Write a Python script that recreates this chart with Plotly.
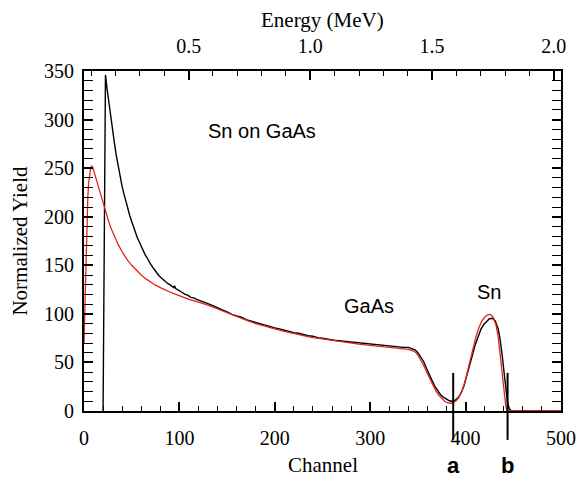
import plotly.graph_objects as go

# Measured RBS spectrum (Sn on GaAs)
exp_channel = [20, 22.5, 24, 26, 28, 30, 32, 34, 36, 38, 40, 42, 44, 46, 48, 50, 52, 54, 56, 58,
               60, 62, 64, 66, 68, 70, 72, 74, 76, 78, 80, 82, 84, 86, 88, 90, 92, 94, 95, 96,
               98, 100, 103, 106, 109, 112, 115, 118, 121, 124, 127, 130, 135, 140, 145, 150,
               155, 160, 165, 170, 175, 180, 185, 190, 195, 200, 205, 210, 215, 220, 225, 230,
               235, 240, 245, 250, 255, 260, 265, 270, 275, 280, 285, 290, 295, 300, 305, 310,
               315, 320, 325, 330, 335, 340, 344, 347, 350, 353, 356, 359, 362, 365, 368, 371,
               374, 377, 380, 383, 386, 389, 392, 395, 398, 401, 404, 407, 410, 413, 416, 419,
               422, 425, 428, 431, 434, 436, 438, 440, 442, 444, 446, 448, 470, 500]
exp_yield = [0, 346, 333, 317, 301, 288, 275, 262, 251, 241, 231, 223, 215, 207, 201, 195, 189, 184, 178, 174,
             169, 166, 161, 158, 154, 151, 148, 145, 142.5, 140, 138, 136, 134.5, 133, 131, 130, 128.5, 127, 129, 126,
             125, 123.5, 122, 120, 119, 117, 116.5, 115, 114, 112.5, 111.5, 110.5, 108.5, 106, 104, 102,
             99.5, 98, 96.5, 94, 92.5, 91, 89.5, 88, 86.5, 85.5, 84.5, 83, 82, 80.5, 80, 78.5,
             77.5, 77, 75.5, 75, 74, 73.5, 72.5, 72, 71.5, 70.5, 70, 70, 69, 68.5, 68, 67.5,
             67.5, 66.5, 66, 66, 65.5, 65.5, 64.5, 63, 60, 56, 51, 44, 37, 31, 25, 20,
             16.5, 14, 12, 10.5, 10, 11, 13.5, 18, 25, 35, 46, 57, 68, 77, 84, 89,
             92.5, 95, 95.5, 93, 85, 75, 60, 42, 22, 8, 2, 0, 0, 0]

# Simulated spectrum
sim_channel = [0, 1, 2, 3, 4, 5, 6, 7, 8, 9, 10, 12, 14, 16, 18, 20, 22, 25, 28, 30,
               33, 36, 40, 45, 50, 55, 60, 65, 70, 75, 80, 85, 90, 95, 100, 110, 120, 130, 140, 150,
               160, 170, 180, 190, 200, 210, 220, 230, 240, 250, 260, 270, 280, 290, 300, 310, 320, 330, 340, 345,
               348, 351, 354, 357, 360, 363, 366, 369, 372, 375, 378, 381, 384, 387, 390, 393, 396, 399, 402, 405,
               408, 411, 414, 417, 420, 423, 426, 429, 432, 434, 436, 438, 440, 442, 443.5, 500]
sim_yield = [70, 115, 160, 195, 220, 236, 245, 250, 252, 251, 248, 241, 234, 227, 221, 215, 208, 198, 189, 184,
             177, 171, 164, 156, 150, 144.5, 140, 136, 132.5, 129.5, 127, 124.5, 122.5, 120.5, 118.5, 115, 112, 109, 105, 101,
             97.5, 93.5, 90, 87, 84.5, 82, 79.5, 77.5, 75.5, 74, 72.5, 71, 69.5, 68.5, 67.5, 66.5, 65.5, 64.5, 63.5, 62,
             60, 56, 51, 45, 38.5, 32, 26, 20.5, 16, 12.5, 10, 8.5, 8, 8.5, 10.5, 14, 20, 29, 41, 54,
             66, 77, 86, 92.5, 96.5, 99, 99.5, 96.5, 88, 77, 60, 40, 20, 6, 0, 0]

# Channel window edges (a, b) and the energy scale of the top axis
window_channels = [387, 444]
window_labels = ["a", "b"]
energy_range = [0.07, 2.03]
energy_ticks = [0.5, 1.0, 1.5, 2.0]

serif = "Liberation Serif"
sans = "Liberation Sans"

fig = go.Figure()
fig.add_trace(go.Scatter(x=exp_channel, y=exp_yield, mode="lines",
                         line=dict(color="black", width=1.4), showlegend=False))
fig.add_trace(go.Scatter(x=sim_channel, y=sim_yield, mode="lines",
                         line=dict(color="#e3221c", width=1.3), showlegend=False))
# carrier trace for the energy axis
fig.add_trace(go.Scatter(x=energy_range, y=[None, None], xaxis="x2", yaxis="y",
                         mode="lines", showlegend=False, hoverinfo="skip"))

tick_font = dict(family=serif, size=20, color="black")

fig.update_layout(
    width=588, height=483,
    margin=dict(l=84, r=22, t=71, b=72),
    paper_bgcolor="white", plot_bgcolor="white",
    xaxis=dict(range=[0, 500], dtick=100, tick0=0, ticks="inside", ticklen=9, tickwidth=1.5,
               tickcolor="black", showline=True, linecolor="black", linewidth=2, mirror=True,
               showgrid=False, zeroline=False, tickfont=tick_font, ticklabelstandoff=8,
               minor=dict(dtick=20, ticks="inside", ticklen=5, tickwidth=1.2, tickcolor="black")),
    yaxis=dict(range=[0, 350], dtick=50, tick0=0, ticks="inside", ticklen=9, tickwidth=1.5,
               tickcolor="black", showline=True, linecolor="black", linewidth=2, mirror="allticks",
               showgrid=False, zeroline=False, tickfont=tick_font, ticklabelstandoff=4,
               minor=dict(dtick=10, ticks="inside", ticklen=5, tickwidth=1.2, tickcolor="black")),
    xaxis2=dict(range=energy_range, overlaying="x", side="top", anchor="y",
                tickvals=energy_ticks, ticktext=[f"{v:.1f}" for v in energy_ticks],
                ticks="inside", ticklen=9, tickwidth=1.5, tickcolor="black",
                showline=True, linecolor="black", linewidth=2,
                showgrid=False, zeroline=False, tickfont=tick_font, ticklabelstandoff=8,
                minor=dict(tickvals=[round(0.1 * k, 1) for k in range(1, 21) if k % 5],
                           ticks="inside", ticklen=5, tickwidth=1.2, tickcolor="black")),
)

# axis titles
fig.add_annotation(text="Channel", xref="paper", yref="paper", x=0.5, y=-0.159,
                   showarrow=False, font=dict(family=serif, size=21, color="black"),
                   xanchor="center", yanchor="middle")
fig.add_annotation(text="Energy (MeV)", xref="paper", yref="paper", x=0.5, y=1.15,
                   showarrow=False, font=dict(family=serif, size=21, color="black"),
                   xanchor="center", yanchor="middle")
fig.add_annotation(text="Normalized Yield", xref="paper", yref="paper", x=-0.135, y=0.5,
                   textangle=-90, showarrow=False,
                   font=dict(family=serif, size=21, color="black"),
                   xanchor="center", yanchor="middle")

# labels inside the plot
label_font = dict(family=sans, size=20, color="black")
fig.add_annotation(text="Sn on GaAs", x=187, y=288, showarrow=False, font=label_font)
fig.add_annotation(text="GaAs", x=299, y=108, showarrow=False, font=label_font)
fig.add_annotation(text="Sn", x=424, y=122, showarrow=False, font=label_font)

# window markers a and b
for ch, lab in zip(window_channels, window_labels):
    fig.add_shape(type="line", xref="x", yref="paper", x0=ch, x1=ch, y0=-0.085, y1=0.112,
                  line=dict(color="black", width=2))
    fig.add_annotation(text=f"<b>{lab}</b>", xref="x", yref="paper", x=ch, y=-0.159,
                       showarrow=False, font=dict(family=sans, size=22, color="black"),
                       xanchor="center", yanchor="middle")

fig.write_html("out.html")
